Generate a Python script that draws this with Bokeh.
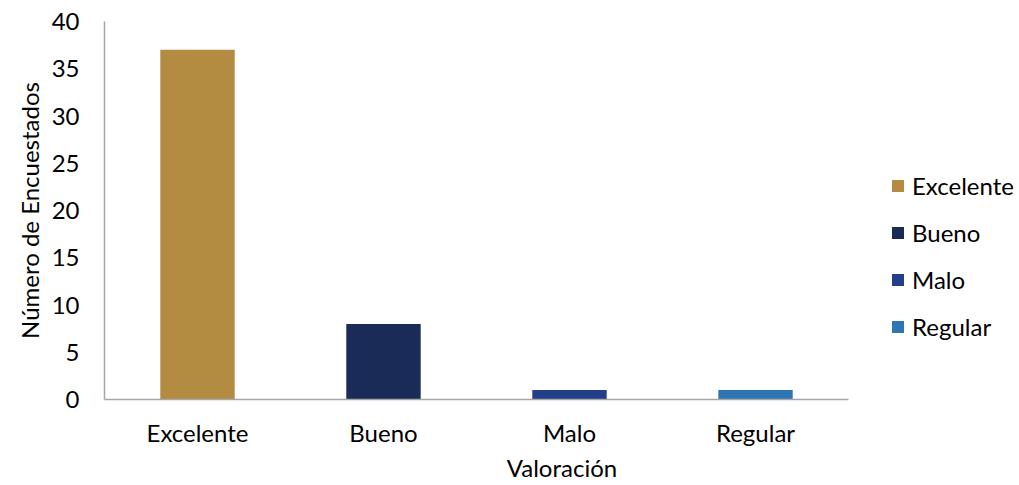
from bokeh.plotting import figure
from bokeh.models import ColumnDataSource, Legend, LegendItem, Range1d, FixedTicker
from bokeh.embed import file_html
from bokeh.resources import INLINE

categories = ["Excelente", "Bueno", "Malo", "Regular"]
values = [37, 8, 1, 1]
colors = ["#B48C41", "#1A2B58", "#22408A", "#2E75B6"]
y_ticks = [0, 5, 10, 15, 20, 25, 30, 35, 40]

FONT = "Lato"
FS = "24px"

W, H = 1019, 485
LEFT, RIGHT, TOP, BOTTOM = 104, 0, 21, 86
frame_w = W - LEFT - RIGHT
cat_px = 186.0  # width of one category slot on screen
n = len(categories)
x_pos = [i + 0.5 for i in range(n)]

p = figure(width=W, height=H, output_backend="svg", toolbar_location=None,
           min_border_left=LEFT, min_border_right=RIGHT,
           min_border_top=TOP, min_border_bottom=BOTTOM)
p.x_range = Range1d(0, frame_w / cat_px)
p.y_range = Range1d(0, 40)

renderers = []
for i, c in enumerate(categories):
    s = ColumnDataSource(dict(x=[x_pos[i]], val=[values[i]]))
    r = p.vbar(x="x", top="val", width=0.4, source=s, fill_color=colors[i], line_color=None)
    renderers.append(r)

p.xgrid.visible = False
p.ygrid.visible = False
p.outline_line_color = None

for ax in (p.xaxis[0], p.yaxis[0]):
    ax.axis_line_color = "#A6A6A6"
    ax.axis_line_width = 1.5
    ax.major_tick_line_color = None
    ax.minor_tick_line_color = None
    ax.major_tick_out = 0
    ax.major_tick_in = 0
    ax.minor_tick_out = 0
    ax.minor_tick_in = 0
    ax.major_label_text_font = FONT
    ax.major_label_text_font_size = FS
    ax.major_label_text_color = "#000000"
    ax.axis_label_text_font = FONT
    ax.axis_label_text_font_size = FS
    ax.axis_label_text_font_style = "normal"
    ax.axis_label_text_color = "#000000"

p.xaxis.bounds = (0, n)
p.xaxis.ticker = FixedTicker(ticks=x_pos)
p.xaxis.major_label_overrides = {x: c for x, c in zip(x_pos, categories)}
p.yaxis.ticker = FixedTicker(ticks=y_ticks)
p.yaxis.major_label_standoff = 25
p.xaxis.major_label_standoff = 18
p.xaxis.axis_label = "Valoración"
p.yaxis.axis_label = "Número de Encuestados"
p.xaxis.axis_label_standoff = 3
p.yaxis.axis_label_standoff = 5

items = [LegendItem(label=c, renderers=[r]) for c, r in zip(categories, renderers)]
legend = Legend(items=items, location=(786, 58), orientation="vertical",
                glyph_width=15, glyph_height=15, label_standoff=7,
                label_height=20, spacing=18, padding=0, margin=0,
                border_line_color=None, background_fill_alpha=0,
                label_text_font=FONT, label_text_font_size=FS,
                label_text_color="#000000")
p.add_layout(legend, "center")

open("out.html", "w").write(file_html(p, INLINE))
